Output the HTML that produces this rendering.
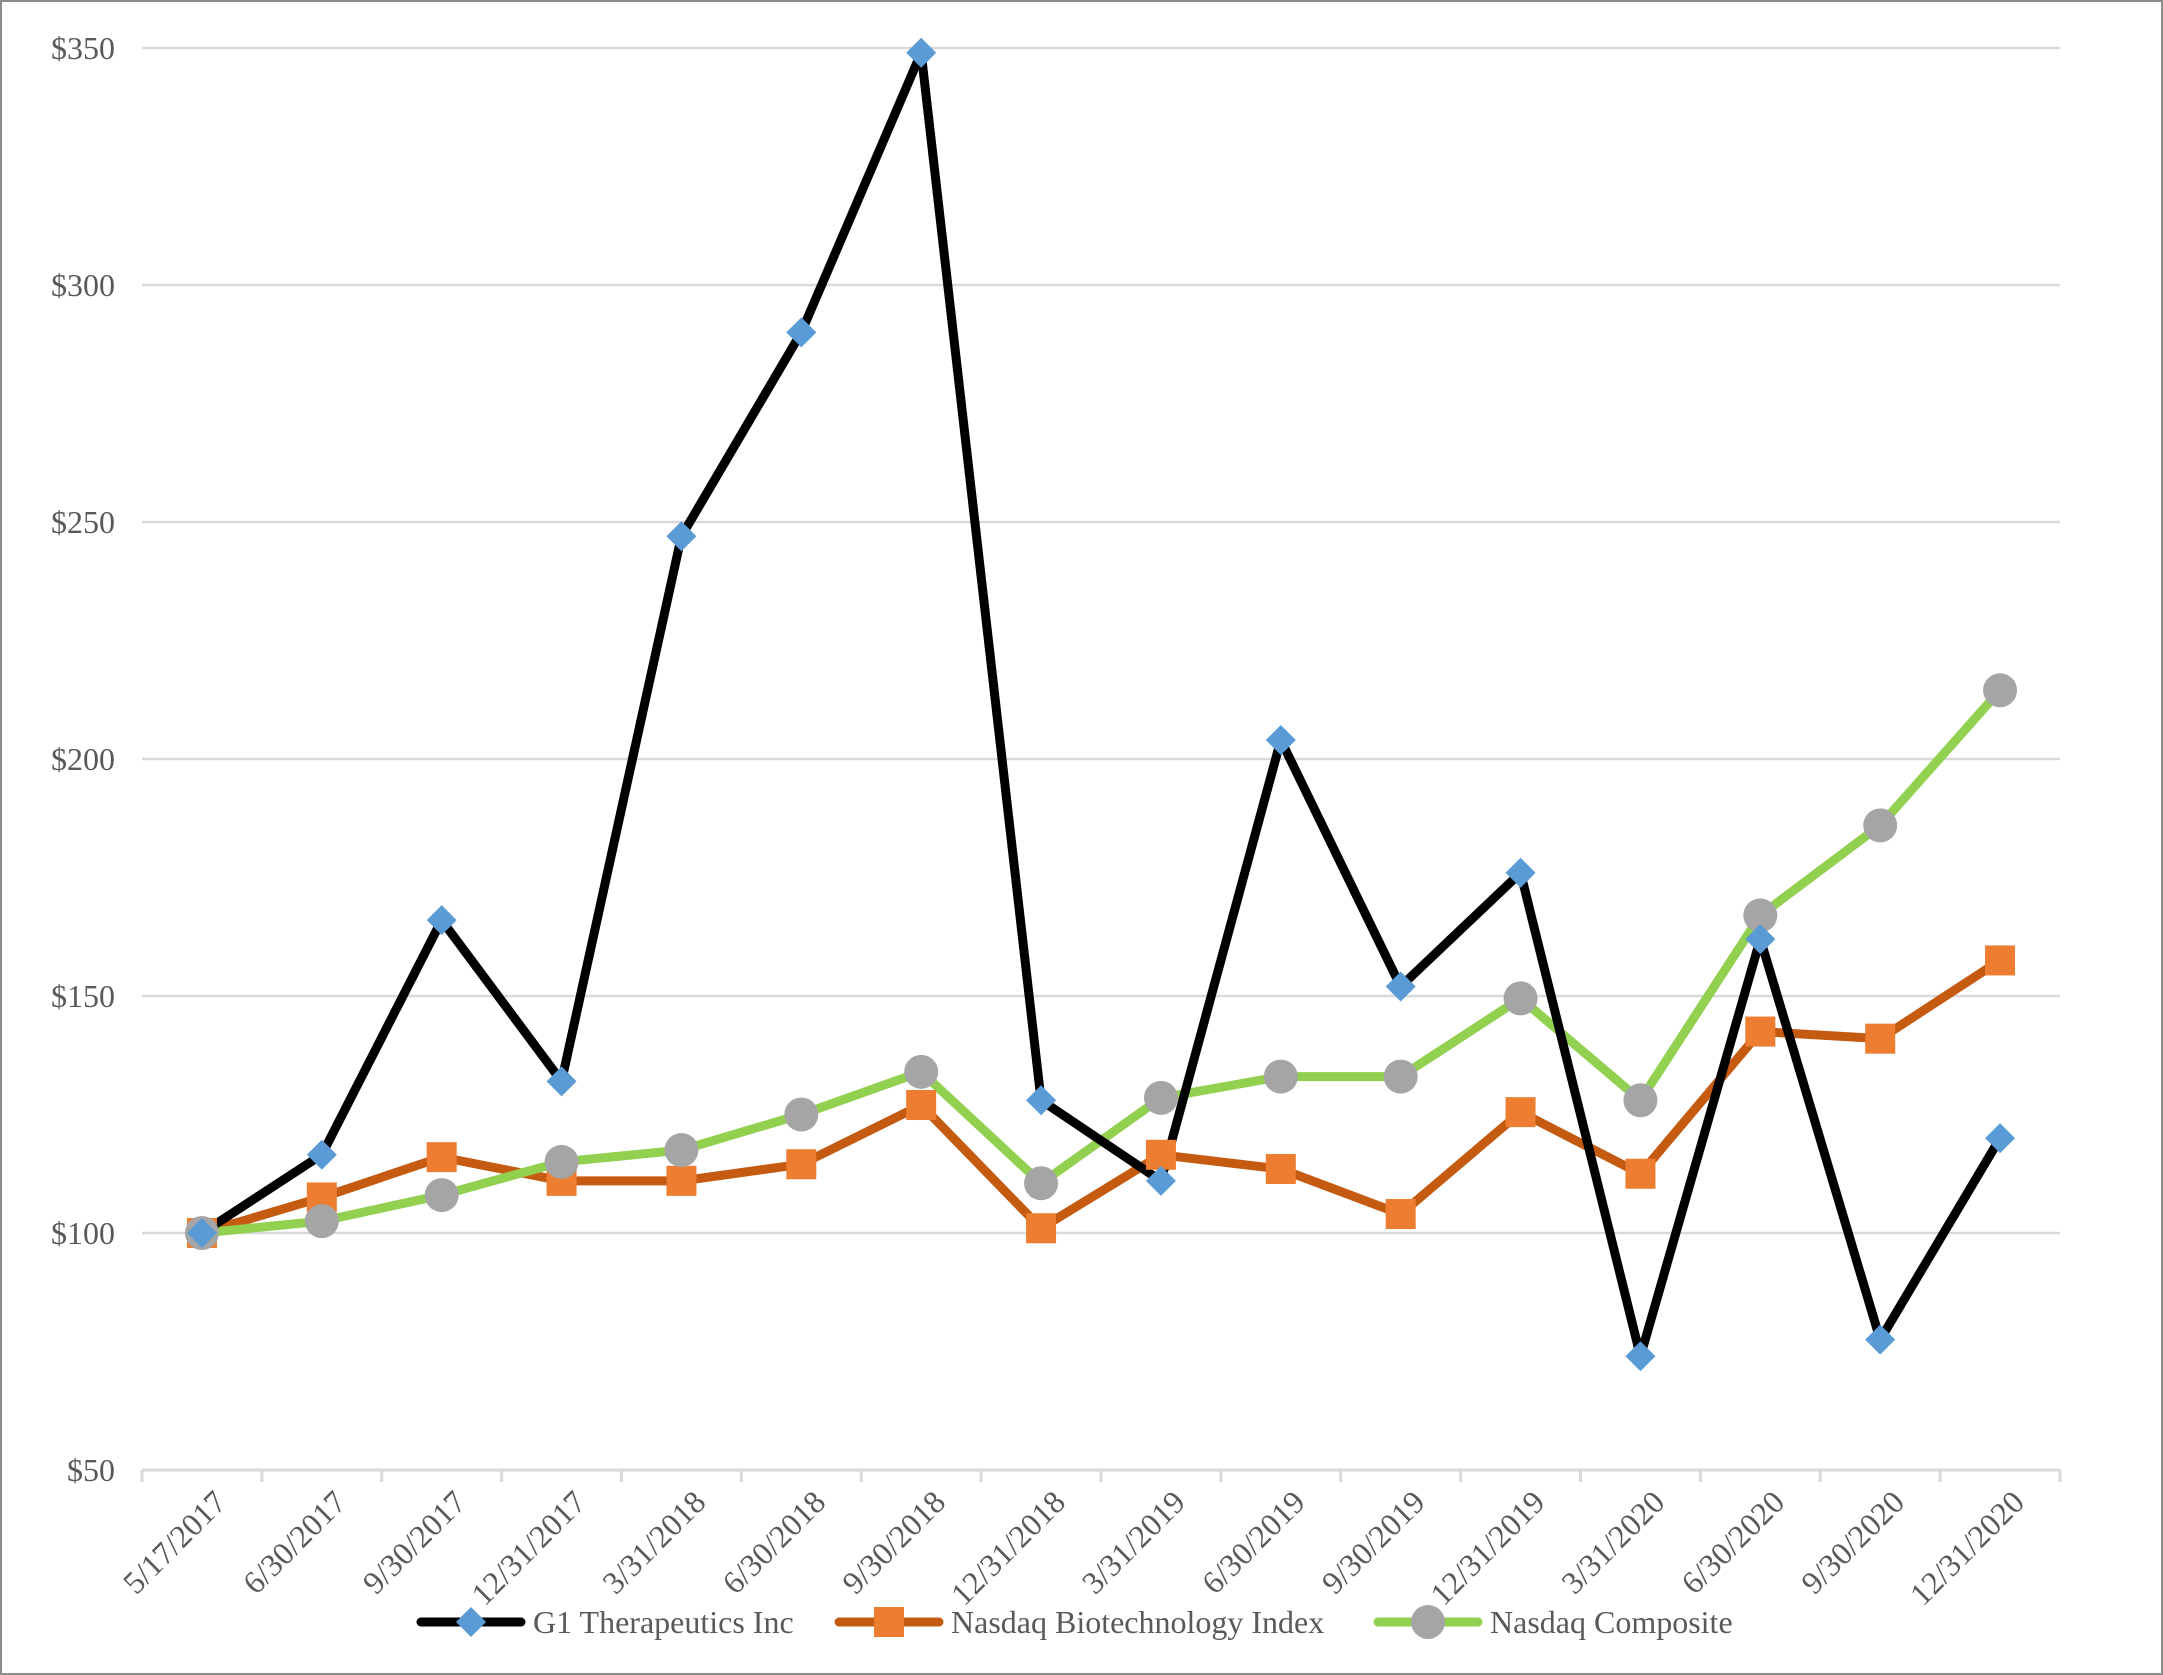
<!DOCTYPE html>
<html><head><meta charset="utf-8"><style>
html,body{margin:0;padding:0;background:#fff}
svg{display:block}
text{font-family:"Liberation Serif","DejaVu Serif",serif;fill:#595959}
</style></head><body>
<svg id="chart" width="2163" height="1675" viewBox="0 0 2163 1675" xmlns="http://www.w3.org/2000/svg" font-family="Liberation Serif, DejaVu Serif, serif">
<rect x="1" y="1" width="2161" height="1673" fill="#fff" stroke="#8c8c8c" stroke-width="2"/>
<g id="grid"></g><g id="axes"></g><g id="series"></g><g id="legend"></g>
</svg>
<script>
const categories=["5/17/2017","6/30/2017","9/30/2017","12/31/2017","3/31/2018","6/30/2018","9/30/2018","12/31/2018","3/31/2019","6/30/2019","9/30/2019","12/31/2019","3/31/2020","6/30/2020","9/30/2020","12/31/2020"];
const g1Values=[100,116.5,166,132,247,290,349,128,111,204,152,176,74,162,77.5,120];
const bioValues=[100,107.5,116,111,111,114.5,127,101,116.5,113.5,104,125.5,112.5,142.5,141,157.5];
const compValues=[100,102.5,108,115,117.5,125,134,110.5,128.5,133,133,149.5,128,167,186,214.5];
const yTicks=[50,100,150,200,250,300,350];
const yTickLabels=["$50","$100","$150","$200","$250","$300","$350"];
const seriesNames=["G1 Therapeutics Inc","Nasdaq Biotechnology  Index","Nasdaq Composite"];

const NS="http://www.w3.org/2000/svg";
const L=142,R=2060,T=48,B=1470,yMin=50,yMax=350;
const band=(R-L)/categories.length;
function x(i){return L+band*(i+0.5);}
function y(v){return B-(v-yMin)/(yMax-yMin)*(B-T);}
function mk(tag,attrs,parent){const e=document.createElementNS(NS,tag);for(const k in attrs)e.setAttribute(k,attrs[k]);parent.appendChild(e);return e;}
const grid=document.getElementById('grid'),axes=document.getElementById('axes'),ser=document.getElementById('series'),leg=document.getElementById('legend');
const FF='Liberation Serif, DejaVu Serif, serif';

yTicks.forEach((t,i)=>{
  if(t!==yMin){const ln=mk('line',{x1:L,x2:R,y1:y(t),y2:y(t),stroke:'#d9d9d9','stroke-width':2.5},grid);
  
  }
  const tx=mk('text',{x:115,y:y(t)+11,'text-anchor':'end','font-size':32,'font-family':FF},axes);tx.textContent=yTickLabels[i];
  
  
});
const ax=mk('line',{x1:L,x2:R,y1:B,y2:B,stroke:'#d9d9d9','stroke-width':3},axes);


for(let i=0;i<=categories.length;i++){
  const tk=mk('line',{x1:L+band*i,x2:L+band*i,y1:B,y2:B+12,stroke:'#d9d9d9','stroke-width':3},axes);
  
  
}
categories.forEach((c,i)=>{
  const cx=x(i)+26,cy=B+34;
  const tx=mk('text',{x:cx,y:cy,'text-anchor':'end','font-size':32,'font-family':FF,transform:`rotate(-45 ${cx} ${cy})`},axes);tx.textContent=c;
  
  
});

function line(vals,color,name){
  const p=mk('polyline',{points:vals.map((v,i)=>x(i)+','+y(v)).join(' '),fill:'none',stroke:color,'stroke-width':9,'stroke-linejoin':'round','stroke-linecap':'round'},ser);
  
  
}
function marker(type,cx,cy,parent,name){
  let e;
  if(type==='d'){const s=15;e=mk('polygon',{points:`${cx},${cy-s} ${cx+s},${cy} ${cx},${cy+s} ${cx-s},${cy}`,fill:'#5b9bd5'},parent);}
  else if(type==='s'){e=mk('rect',{x:cx-15,y:cy-15,width:30,height:30,fill:'#ed7d31'},parent);}
  else{e=mk('circle',{cx:cx,cy:cy,r:17,fill:'#a5a5a5'},parent);}
  
  
}
line(bioValues,'#c55a11','biotech-index');
line(compValues,'#92d050','nasdaq-composite');
line(g1Values,'#000000','g1-therapeutics');
bioValues.forEach((v,i)=>marker('s',x(i),y(v),ser,'biotech-point'));
compValues.forEach((v,i)=>marker('c',x(i),y(v),ser,'composite-point'));
g1Values.forEach((v,i)=>marker('d',x(i),y(v),ser,'g1-point'));

const legItems=[{x:421,c:'#000',m:'d',n:'legend-g1'},{x:839,c:'#c55a11',m:'s',n:'legend-biotech'},{x:1378,c:'#92d050',m:'c',n:'legend-composite'}];
legItems.forEach((it,i)=>{
  const ly=1622;
  const g=mk('g',{},leg);
  
  
  mk('line',{x1:it.x,x2:it.x+100,y1:ly,y2:ly,stroke:it.c,'stroke-width':9,'stroke-linecap':'round'},g);
  marker(it.m,it.x+50,ly,g,it.n+'-marker');
  const tx=mk('text',{x:it.x+112,y:ly+11,'font-size':32,'font-family':FF},g);tx.textContent=seriesNames[i];
  
  
});
</script>
</body></html>
